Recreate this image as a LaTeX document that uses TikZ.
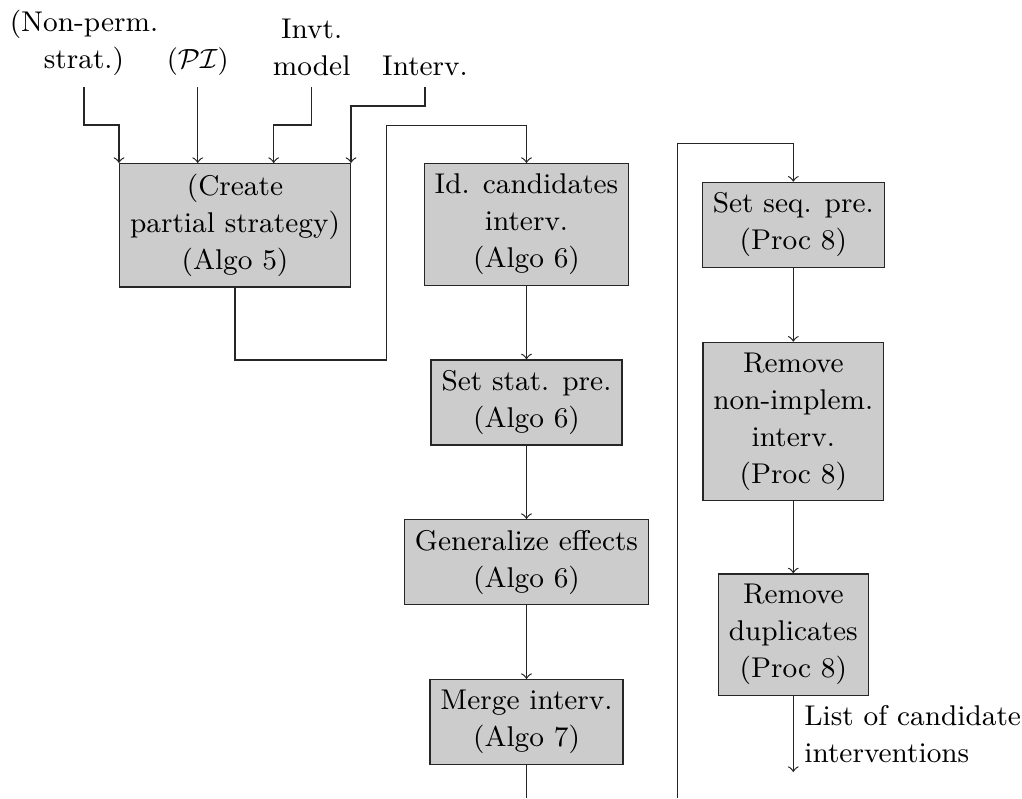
\documentclass[tikz,border=0pt]{standalone}
\usetikzlibrary{calc}
\begin{document}
\begin{tikzpicture}[x=0.3247pt,y=-0.3247pt,
  every node/.style={font=\fontsize{9.27pt}{12pt}\selectfont,inner sep=3.4pt},
  stepbox/.style={draw=black!85,fill=black!20,align=center,anchor=north},
  inp/.style={align=center,anchor=south},
  conn/.style={draw=black!85,line width=0.4pt},
  >=to]
\useasboundingbox (0,0) rectangle (1022,798);
% inputs
\node[inp] (np) at (84,87) {(Non-perm.\\strat.)};
\node[inp] (pi) at (197.7,87) {$(\mathcal{P}\mathcal{I})$};
\node[inp] (invt) at (311.7,87) {Invt.\\model};
\node[inp] (interv) at (425,87) {Interv.};
% boxes
\node[stepbox] (create) at (235,163) {(Create\\partial strategy)\\(Algo 5)};
\node[stepbox] (id) at (526.5,163) {Id. candidates\\interv.\\(Algo 6)};
\node[stepbox] (stat) at (526.5,359.3) {Set stat. pre.\\(Algo 6)};
\node[stepbox] (gen) at (526.5,519) {Generalize effects\\(Algo 6)};
\node[stepbox] (merge) at (526.5,679) {Merge interv.\\(Algo 7)};
\node[stepbox] (seq) at (793.3,181.7) {Set seq. pre.\\(Proc 8)};
\node[stepbox] (nonimpl) at (793.3,341.7) {Remove\\non-implem.\\interv.\\(Proc 8)};
\node[stepbox] (dup) at (793.3,573.3) {Remove\\duplicates\\(Proc 8)};
% helper coordinates
\coordinate (c1) at (386.7,360);
\coordinate (c2) at (386.7,125.7);
\coordinate (b1) at (526.5,798);
\coordinate (b2) at (677.3,798);
\coordinate (c3) at (677.3,143.7);
% connectors
\draw[conn,->] (np.south) -- ++(0,38) -| (create.north west);
\draw[conn,->] (pi.south) -- (pi.south |- create.north);
\draw[conn,->] (invt.south) -- ++(0,38) -| ($(create.north west)!2/3!(create.north east)$);
\draw[conn,->] (interv.south) -- ++(0,19) -| (create.north east);
\draw[conn,->] (create.south) |- (c1) -- (c2) -| (id.north);
\draw[conn,->] (id) -- (stat);
\draw[conn,->] (stat) -- (gen);
\draw[conn,->] (gen) -- (merge);
\draw[conn] (merge.south) -- (b1);
\draw[conn,->] (b2) -- (c3) -| (seq.north);
\draw[conn,->] (seq) -- (nonimpl);
\draw[conn,->] (nonimpl) -- (dup);
\draw[conn,->] (dup.south) -- node[right,align=left] {List of candidate\\interventions} ++(0,76);
\end{tikzpicture}
\end{document}
